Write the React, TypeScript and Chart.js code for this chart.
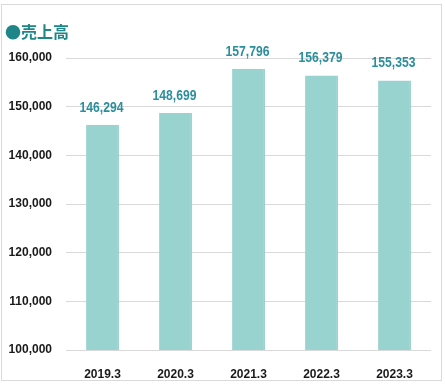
import React, { useEffect, useRef } from "react";
import { Chart, registerables } from "chart.js";

Chart.register(...registerables);

const categories = ["2019.3", "2020.3", "2021.3", "2022.3", "2023.3"];
const sales = [146294, 148699, 157796, 156379, 155353];
const yMin = 100000;
const yMax = 160000;
const yStep = 10000;
const title = "●売上高";

const labelPlugin = {
  id: "barLabels",
  afterDatasetsDraw(chart: any) {
    const ctx = chart.ctx;
    const meta = chart.getDatasetMeta(0);
    meta.data.forEach((el: any, i: number) => {
      const v = chart.data.datasets[0].data[i] as number;
      ctx.save();
      ctx.fillStyle = "#2b8f9c";
      ctx.font = "bold 14px 'Liberation Sans', Arial, sans-serif";
      ctx.textAlign = "center";
      ctx.textBaseline = "middle";
      ctx.translate(el.x - 1, el.y - 17);
      ctx.scale(0.87, 1);
      ctx.fillText(v.toLocaleString("en-US"), 0, 0);
      ctx.restore();
    });
  },
};

export default function App() {
  const ref = useRef<HTMLCanvasElement | null>(null);
  useEffect(() => {
    document.body.style.margin = "0";
    const chart = new Chart(ref.current!, {
      type: "bar",
      data: {
        labels: categories,
        datasets: [
          {
            data: sales,
            backgroundColor: "#99d3d0",
            borderColor: "#8ecbc8",
            borderWidth: { left: 0, right: 1, top: 0, bottom: 0 } as any,
            barPercentage: 0.45,
            categoryPercentage: 1,
          },
        ],
      },
      options: {
        animation: false,
        responsive: false,
        maintainAspectRatio: false,
        layout: { padding: { top: 58, right: 14, left: 0, bottom: 0 } },
        plugins: { legend: { display: false }, tooltip: { enabled: false } },
        scales: {
          x: {
            grid: { display: false },
            border: { display: false },
            ticks: {
              color: "#1a1a1a",
              font: { family: "'Liberation Sans', Arial, sans-serif", size: 12, weight: "bold" },
              padding: 9,
            },
            afterFit: (s: any) => {
              s.height = 37;
            },
          },
          y: {
            min: yMin,
            max: yMax,
            grid: { color: "#d9d9d9", drawTicks: false },
            border: { display: false },
            ticks: {
              stepSize: yStep,
              color: "#1a1a1a",
              padding: 14,
              font: { family: "'Liberation Sans', Arial, sans-serif", size: 12, weight: "bold" },
              callback: (v: any) => Number(v).toLocaleString("en-US"),
            },
            afterFit: (s: any) => {
              s.width = 66;
            },
          },
        },
      },
      plugins: [labelPlugin],
    });
    return () => chart.destroy();
  }, []);

  return (
    <div style={{ position: "relative", width: 445, height: 387, background: "#fff" }}>
      <div
        style={{
          position: "absolute",
          left: 1,
          top: 4,
          width: 439,
          height: 375,
          border: "1px solid #d9d9d9",
          boxSizing: "content-box",
        }}
      />
      <canvas ref={ref} width={445} height={387} style={{ position: "absolute", left: 0, top: 0 }} />
      <div
        style={{
          position: "absolute",
          left: 5,
          top: 20,
          fontFamily: "'Noto Sans CJK JP', sans-serif",
          fontWeight: "bold",
          fontSize: 16,
          lineHeight: "22px",
          color: "#1e8688",
          whiteSpace: "nowrap",
        }}
      >
        {title}
      </div>
    </div>
  );
}
